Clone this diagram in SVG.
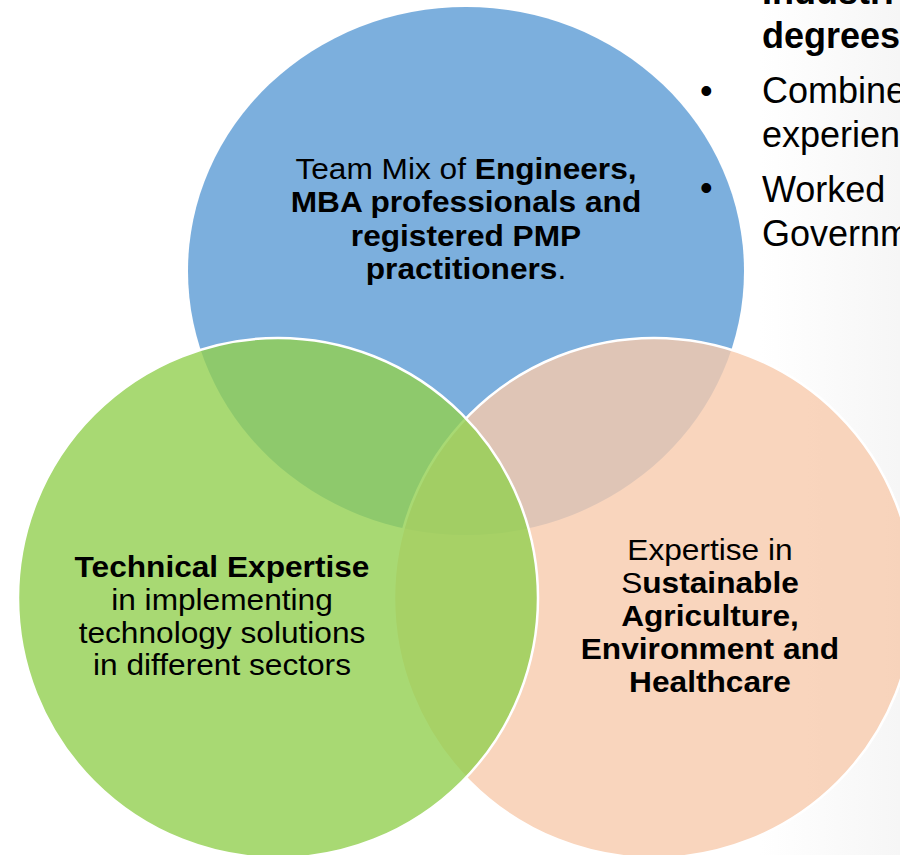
<svg xmlns="http://www.w3.org/2000/svg" width="900" height="855" viewBox="0 0 900 855">
  <defs>
    <linearGradient id="bgGrad" x1="0" y1="0" x2="1" y2="0">
      <stop offset="0" stop-color="#ffffff"/>
      <stop offset="1" stop-color="#f6f6f6"/>
    </linearGradient>
    <style>
      text { font-family: "Liberation Sans", Arial, sans-serif; fill: #000; }
      .lbl { font-size: 30px; text-anchor: middle; }
      .side { font-size: 36px; }
      .b { font-weight: bold; }
      .blue { fill: #5B9BD5; fill-opacity: 0.8; }
      .orange { fill: #F8CBAD; fill-opacity: 0.8; stroke: #ffffff; stroke-width: 2.5; }
      .green { fill: #92D050; fill-opacity: 0.8; stroke: #ffffff; stroke-width: 2.5; }
    </style>
  </defs>

  <rect x="0" y="0" width="900" height="855" fill="#ffffff"/>
  <rect x="760" y="0" width="140" height="855" fill="url(#bgGrad)"/>

  <g id="node-blue">
    <ellipse class="blue" cx="466" cy="271" rx="278" ry="264"/>
  </g>
  <g id="node-orange">
    <circle class="orange" cx="654" cy="598" r="260"/>
  </g>
  <g id="node-green">
    <circle class="green" cx="278" cy="598" r="260"/>
  </g>

  <g id="connectors"/>

  <g id="side-text">
    <text class="side b" x="762" y="4">Industri</text>
    <text class="side b" x="762" y="48">degrees</text>
    <text class="side" x="700" y="103">•</text>
    <text class="side" x="762" y="103">Combine</text>
    <text class="side" x="762" y="147">experien</text>
    <text class="side" x="700" y="200">•</text>
    <text class="side" x="762" y="202">Worked</text>
    <text class="side" x="762" y="246">Governm</text>
  </g>

  <g id="label-blue" transform="translate(466 0) scale(1.055 1) translate(-466 0)">
    <text class="lbl" x="466" y="179">Team Mix of <tspan class="b">Engineers,</tspan></text>
    <text class="lbl b" x="466" y="212">MBA professionals and</text>
    <text class="lbl b" x="466" y="246">registered PMP</text>
    <text class="lbl" x="466" y="279"><tspan class="b">practitioners</tspan>.</text>
  </g>

  <g id="label-green" transform="translate(222 0) scale(1.055 1) translate(-222 0)">
    <text class="lbl b" x="222" y="577">Technical Expertise</text>
    <text class="lbl" x="222" y="610">in implementing</text>
    <text class="lbl" x="222" y="643">technology solutions</text>
    <text class="lbl" x="222" y="675">in different sectors</text>
  </g>

  <g id="label-orange" transform="translate(710 0) scale(1.055 1) translate(-710 0)">
    <text class="lbl" x="710" y="560">Expertise in</text>
    <text class="lbl" x="710" y="593">S<tspan class="b">ustainable</tspan></text>
    <text class="lbl b" x="710" y="626">Agriculture,</text>
    <text class="lbl b" x="710" y="659">Environment and</text>
    <text class="lbl b" x="710" y="692">Healthcare</text>
  </g>
</svg>
